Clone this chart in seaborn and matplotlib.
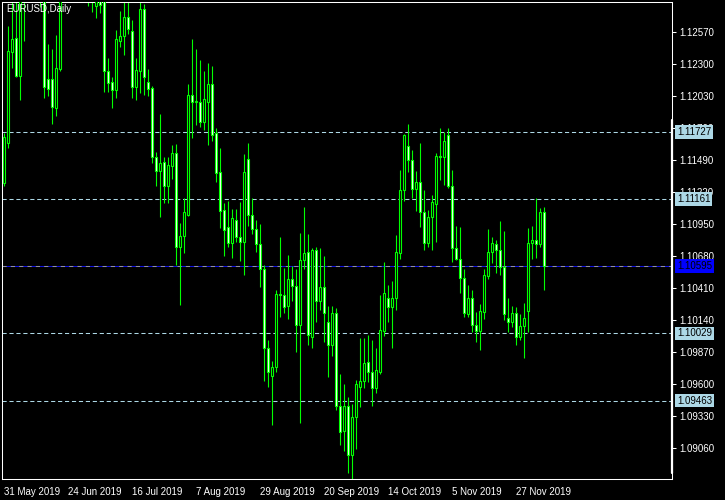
import numpy as np
import pandas as pd
import seaborn as sns
import matplotlib
matplotlib.use('Agg')
import matplotlib.pyplot as plt
import matplotlib.transforms as mtransforms

# EURUSD daily candles, 31 May 2019 .. 6 Dec 2019
opens = [1.1130, 1.1164, 1.1240, 1.1252, 1.1220, 1.1290, 1.1332, 1.1312, 1.1327, 1.1290,
         1.1286, 1.1218, 1.1218, 1.1193, 1.1226, 1.1292, 1.1370, 1.1398, 1.1367, 1.1368,
         1.1372, 1.1370, 1.1286, 1.1279, 1.1286, 1.1284, 1.1224, 1.1215, 1.1208, 1.1250,
         1.1254, 1.1270, 1.1258, 1.1211, 1.1224, 1.1277, 1.1215, 1.1210, 1.1152, 1.1140,
         1.1148, 1.1127, 1.1144, 1.1155, 1.1076, 1.1085, 1.1103, 1.1204, 1.1198, 1.1198,
         1.1181, 1.1198, 1.1213, 1.1172, 1.1139, 1.1107, 1.1093, 1.1079, 1.1099, 1.1084,
         1.1080, 1.1150, 1.1103, 1.1091, 1.1078, 1.1057, 1.0991, 1.0967, 1.0975, 1.1036,
         1.1035, 1.1026, 1.1049, 1.1043, 1.1010, 1.1065, 1.1072, 1.1000, 1.1073, 1.1030,
         1.1042, 1.1013, 1.0993, 1.1020, 1.0942, 1.0921, 1.0942, 1.0900, 1.0932, 1.0958,
         1.0963, 1.0979, 1.0970, 1.0957, 1.0970, 1.1005, 1.1033, 1.1025, 1.1033, 1.1071,
         1.1124, 1.1161, 1.1149, 1.1125, 1.1131, 1.1105, 1.1079, 1.1101, 1.1112, 1.1153,
         1.1152, 1.1170, 1.1127, 1.1075, 1.1066, 1.1050, 1.1019, 1.1033, 1.1010, 1.1005,
         1.1021, 1.1051, 1.1072, 1.1078, 1.1073, 1.1059, 1.1016, 1.1013, 1.1020, 1.1000,
         1.1009, 1.1022, 1.1079, 1.1082, 1.1078, 1.1105]
highs = [1.1172, 1.1262, 1.1290, 1.1300, 1.1309, 1.1348, 1.1337, 1.1345, 1.1333, 1.1296,
         1.1290, 1.1247, 1.1243, 1.1255, 1.1318, 1.1380, 1.1413, 1.1412, 1.1384, 1.1393,
         1.1390, 1.1380, 1.1320, 1.1300, 1.1294, 1.1291, 1.1235, 1.1219, 1.1259, 1.1275,
         1.1283, 1.1285, 1.1267, 1.1235, 1.1283, 1.1281, 1.1226, 1.1212, 1.1156, 1.1188,
         1.1152, 1.1152, 1.1162, 1.1163, 1.1096, 1.1117, 1.1213, 1.1251, 1.1243, 1.1234,
         1.1224, 1.1231, 1.1229, 1.1176, 1.1159, 1.1113, 1.1115, 1.1108, 1.1108, 1.1114,
         1.1154, 1.1164, 1.1117, 1.1099, 1.1095, 1.1061, 1.0997, 1.0980, 1.1040, 1.1084,
         1.1058, 1.1069, 1.1060, 1.1057, 1.1088, 1.1110, 1.1087, 1.1075, 1.1076, 1.1075,
         1.1068, 1.1026, 1.1026, 1.1024, 1.0969, 1.0960, 1.0949, 1.0943, 1.0964, 1.0999,
         1.0999, 1.1002, 1.0997, 1.0991, 1.1035, 1.1063, 1.1044, 1.1047, 1.1086, 1.1141,
         1.1171, 1.1180, 1.1158, 1.1140, 1.1164, 1.1124, 1.1107, 1.1120, 1.1155, 1.1176,
         1.1173, 1.1176, 1.1141, 1.1094, 1.1093, 1.1057, 1.1044, 1.1040, 1.1021, 1.1028,
         1.1057, 1.1091, 1.1084, 1.1082, 1.1098, 1.1089, 1.1033, 1.1026, 1.1025, 1.1019,
         1.1029, 1.1092, 1.1094, 1.1117, 1.1109, 1.1110]
lows = [1.1127, 1.1159, 1.1227, 1.1219, 1.1200, 1.1250, 1.1293, 1.1305, 1.1286, 1.1278,
        1.1202, 1.1203, 1.1180, 1.1186, 1.1224, 1.1288, 1.1365, 1.1355, 1.1355, 1.1358,
        1.1353, 1.1279, 1.1274, 1.1269, 1.1273, 1.1207, 1.1207, 1.1193, 1.1202, 1.1245,
        1.1238, 1.1256, 1.1202, 1.1200, 1.1206, 1.1204, 1.1203, 1.1147, 1.1127, 1.1101,
        1.1113, 1.1113, 1.1133, 1.1061, 1.1027, 1.1071, 1.1102, 1.1168, 1.1179, 1.1177,
        1.1175, 1.1162, 1.1165, 1.1131, 1.1092, 1.1068, 1.1076, 1.1067, 1.1080, 1.1064,
        1.1052, 1.1094, 1.1087, 1.1072, 1.1042, 1.0963, 1.0958, 1.0926, 1.0970, 1.1017,
        1.1020, 1.1015, 1.1030, 1.0987, 1.0927, 1.1057, 1.0993, 1.0991, 1.1013, 1.1023,
        1.0996, 1.0966, 1.0984, 1.0938, 1.0909, 1.0904, 1.0885, 1.0880, 1.0905, 1.0941,
        1.0957, 1.0962, 1.0942, 1.0953, 1.0969, 1.1001, 1.1013, 1.0991, 1.1023, 1.1066,
        1.1115, 1.1139, 1.1117, 1.1106, 1.1093, 1.1073, 1.1076, 1.1073, 1.1080, 1.1132,
        1.1128, 1.1126, 1.1063, 1.1065, 1.1037, 1.1017, 1.1017, 1.1004, 1.0996, 1.0989,
        1.1015, 1.1049, 1.1062, 1.1054, 1.1052, 1.1014, 1.1004, 1.1008, 1.0993, 1.0997,
        1.0982, 1.1004, 1.1066, 1.1067, 1.1076, 1.1040]
closes = [1.1169, 1.1241, 1.1251, 1.1220, 1.1290, 1.1332, 1.1312, 1.1327, 1.1288, 1.1286,
          1.1211, 1.1209, 1.1194, 1.1227, 1.1292, 1.1370, 1.1398, 1.1367, 1.1368, 1.1372,
          1.1370, 1.1286, 1.1287, 1.1286, 1.1280, 1.1224, 1.1214, 1.1208, 1.1251, 1.1254,
          1.1270, 1.1260, 1.1211, 1.1225, 1.1277, 1.1219, 1.1209, 1.1152, 1.1140, 1.1147,
          1.1127, 1.1145, 1.1155, 1.1076, 1.1085, 1.1105, 1.1204, 1.1198, 1.1199, 1.1181,
          1.1201, 1.1213, 1.1170, 1.1138, 1.1106, 1.1090, 1.1079, 1.1100, 1.1084, 1.1080,
          1.1139, 1.1103, 1.1091, 1.1078, 1.1057, 1.0991, 1.0970, 1.0975, 1.1036, 1.1035,
          1.1025, 1.1049, 1.1043, 1.1010, 1.1065, 1.1071, 1.1002, 1.1073, 1.1030, 1.1042,
          1.1020, 1.0993, 1.1020, 1.0942, 1.0920, 1.0942, 1.0900, 1.0932, 1.0960, 1.0963,
          1.0978, 1.0970, 1.0957, 1.0972, 1.1006, 1.1037, 1.1025, 1.1033, 1.1072, 1.1124,
          1.1170, 1.1149, 1.1125, 1.1131, 1.1105, 1.1079, 1.1101, 1.1114, 1.1153, 1.1152,
          1.1165, 1.1127, 1.1075, 1.1066, 1.1050, 1.1020, 1.1033, 1.1010, 1.1005, 1.1022,
          1.1052, 1.1072, 1.1079, 1.1073, 1.1059, 1.1019, 1.1013, 1.1020, 1.1000, 1.1009,
          1.1016, 1.1079, 1.1082, 1.1078, 1.1105, 1.10595]

dates = pd.bdate_range('2019-05-31', '2019-12-06')
date_labels = ['31 May 2019', '24 Jun 2019', '16 Jul 2019', '7 Aug 2019', '29 Aug 2019',
               '20 Sep 2019', '14 Oct 2019', '5 Nov 2019', '27 Nov 2019']
price_ticks = [1.12570, 1.12300, 1.12030, 1.11760, 1.11490, 1.11220, 1.10950,
               1.10680, 1.10410, 1.10140, 1.09870, 1.09600, 1.09330, 1.09060]
levels = [1.11727, 1.11161, 1.10029, 1.09463]
bid = 1.10595

GREEN = '#00ff00'

sns.set_theme(style='dark', rc={
    'axes.facecolor': 'black', 'figure.facecolor': 'black',
    'axes.edgecolor': 'white', 'text.color': 'white',
    'xtick.color': 'white', 'ytick.color': 'white',
    'axes.grid': False, 'lines.scale_dashes': False,
})
plt.rcParams['font.family'] = ['Liberation Sans', 'DejaVu Sans']

df = pd.DataFrame({'date': dates, 'open': opens, 'high': highs,
                   'low': lows, 'close': closes})
df['bar'] = np.arange(len(df))
df['bull'] = df['close'] >= df['open']

fig = plt.figure(figsize=(7.25, 5), dpi=100)
ax = fig.add_axes([2 / 725, 21 / 500, 670 / 725, 477 / 500])
ax.set_xlim(-0.425, 167.075)
ax.set_ylim(1.08801, 1.12826)

# levels and bid line
for lv in levels:
    ax.axhline(lv, color='#add8e6', lw=0.75, ls=(0, (3, 2)), zorder=1)
ax.axhline(bid, color='#1010e0', lw=0.75, zorder=1)
ax.axhline(bid, color='#9090a0', lw=0.75, ls=(0, (3, 3)), zorder=1.1)

# candles
ax.vlines(df['bar'], df['low'], df['high'], colors=GREEN, lw=0.8, zorder=2)
ax.bar(df['bar'], (df['close'] - df['open']).abs(),
       bottom=df[['open', 'close']].min(axis=1), width=0.5,
       color=np.where(df['bull'], 'black', 'white'),
       edgecolor=GREEN, linewidth=0.8, zorder=3)

# axes cosmetics
for sp in ax.spines.values():
    sp.set_color('white')
    sp.set_linewidth(0.75)
ax.plot([1, 1], [0.0126, 0.753], transform=ax.transAxes, color='white',
        lw=1.6, clip_on=False, zorder=5)

ax.yaxis.tick_right()
ax.set_yticks(price_ticks)
ax.set_yticklabels([f'{t:.5f}' for t in price_ticks])
ax.tick_params(axis='y', length=3, width=0.75, pad=2, labelsize=7, colors='white')

tick_pos = [dates.get_loc(pd.Timestamp(d)) for d in date_labels]
ax.set_xticks(tick_pos)
ax.set_xticklabels(date_labels)
for lbl in ax.get_xticklabels():
    lbl.set_ha('left')
ax.tick_params(axis='x', length=4, width=0.75, pad=2, labelsize=7, colors='white')

# price labels on the right scale
trans = mtransforms.blended_transform_factory(ax.transAxes, ax.transData)
for lv in levels:
    ax.text(1 + 5 / 670, lv, f'{lv:.5f}', transform=trans, va='center', ha='left',
            fontsize=7, color='black', clip_on=False, zorder=6,
            bbox=dict(boxstyle='square,pad=0.2', fc='#add8e6', ec='none'))
ax.text(1 + 5 / 670, bid, f'{bid:.5f}', transform=trans, va='center', ha='left',
        fontsize=7, color='black', clip_on=False, zorder=6,
        bbox=dict(boxstyle='square,pad=0.2', fc='#0000ff', ec='none'))

fig.text(6 / 725, 1 - 4 / 500, 'EURUSD,Daily', color='white', fontsize=7,
         va='top', ha='left')

fig.savefig('out.png', dpi=100, facecolor='black')
